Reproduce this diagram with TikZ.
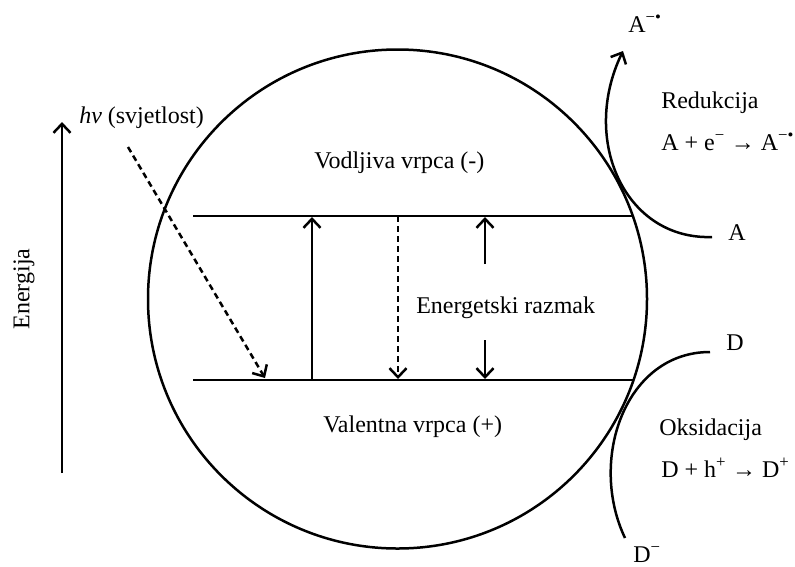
\documentclass[tikz,border=0pt]{standalone}
\usepackage{fontspec}
\setmainfont{Liberation Serif}
\usetikzlibrary{arrows.meta}
\begin{document}
\begin{tikzpicture}[x=1pt,y=-1pt,line width=2.5pt,
  >={Straight Barb[length=9pt,width=17pt]},
  lbl/.style={font=\fontsize{24}{28}\selectfont,inner sep=0pt,anchor=base west},
  dsh/.style={dash pattern=on 6pt off 4pt}]
\useasboundingbox (0,0) rectangle (795,566);
% particle
\coordinate (c0) at (397.5,299);
\draw (c0) circle[radius=249.5pt];
% bands
\coordinate (cbL) at (193,216); \coordinate (cbR) at (633,216);
\coordinate (vbL) at (193,380); \coordinate (vbR) at (634,380);
\draw (cbL) -- (cbR);
\draw (vbL) -- (vbR);
% transitions
\coordinate (ex1) at (312,380); \coordinate (ex2) at (312,217);
\draw[->] (ex1) -- (ex2);
\coordinate (re1) at (398,216); \coordinate (re2) at (398,379);
\draw[->,dsh] (re1) -- (re2);
\coordinate (g1) at (485,264); \coordinate (g2) at (485,217);
\coordinate (g3) at (485,340); \coordinate (g4) at (485,379);
\draw[->] (g1) -- (g2);
\draw[->] (g3) -- (g4);
% light
\coordinate (hv1) at (128,147); \coordinate (hv2) at (265,378);
\draw[->,dsh] (hv1) -- (hv2);
% energy axis
\coordinate (E1) at (62,473); \coordinate (E2) at (62,122);
\draw[->] (E1) -- (E2);
% redox arcs
\coordinate (Ae) at (712,237); \coordinate (Am) at (623,51);
\draw[->] (Ae) .. controls (625,240) and (580,140) .. (Am);
\coordinate (De) at (710,352); \coordinate (Dm) at (625,538);
\draw (De) .. controls (625,352) and (588,460) .. (Dm);
% labels
\node[lbl] (tAm) at (627,32) {A\textsuperscript{−•}};
\node[lbl] (tRed) at (660,108) {Redukcija};
\node[lbl] (tReq) at (660,150) {A + e\textsuperscript{−} → A\textsuperscript{−•}};
\node[lbl] (tA) at (727,240) {A};
\node[lbl] (tD) at (725,350) {D};
\node[lbl] (tOks) at (658,435) {Oksidacija};
\node[lbl] (tOeq) at (660,477) {D + h\textsuperscript{+} → D\textsuperscript{+}};
\node[lbl] (tDm) at (632,562) {D\textsuperscript{−}};
\node[lbl] (thv) at (78,123) {\textit{hν} (svjetlost)};
\node[lbl] (tVod) at (313,168) {Vodljiva vrpca (-)};
\node[lbl] (tVal) at (322,432) {Valentna vrpca (+)};
\node[lbl] (tGap) at (415,313) {Energetski razmak};
\node[font=\fontsize{24}{28}\selectfont,inner sep=0pt,rotate=90] (tEn) at (24,289) {Energija};
\end{tikzpicture}
\end{document}
